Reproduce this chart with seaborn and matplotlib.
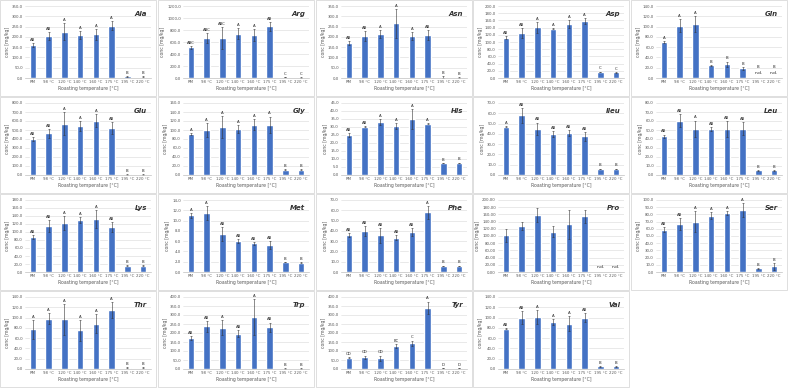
import matplotlib
matplotlib.use("Agg")
import matplotlib.pyplot as plt
from matplotlib.patches import Rectangle
from matplotlib.ticker import FuncFormatter
import seaborn as sns

# roasting temperatures (x categories)
temps = ["RM", "98 °C", "120 °C", "140 °C", "160 °C", "175 °C", "195 °C", "220 °C"]

amino_acids = ["Ala", "Arg", "Asn", "Asp", "Gln",
               "Glu", "Gly", "His", "Ileu", "Leu",
               "Lys", "Met", "Phe", "Pro", "Ser",
               "Thr", "Trp", "Tyr", "Val"]

# mean concentrations [mg/kg], None = not detected
means = {
    "Ala": [160, 205, 225, 210, 212, 255, 8, 6],
    "Arg": [510, 665, 670, 735, 715, 860, 15, 8],
    "Asn": [170, 205, 215, 265, 205, 210, 5, 2],
    "Asp": [112, 125, 141, 137, 150, 158, 17, 16],
    "Gln": [70, 102, 105, 25, 27, 19, None, None],
    "Glu": [400, 465, 570, 545, 605, 525, 8, 6],
    "Gly": [91, 100, 107, 102, 112, 112, 12, 12],
    "His": [25, 30.2, 33, 30.5, 35, 32, 7.5, 7.6],
    "Ileu": [47, 58, 45, 40, 41, 37.5, 6, 6],
    "Leu": [43, 60.5, 51.5, 51, 51, 51.5, 5, 5],
    "Lys": [87, 116, 122, 130, 132, 112, 16, 16],
    "Met": [11.0, 11.5, 7.4, 6.0, 5.6, 5.3, 1.9, 1.8],
    "Phe": [36, 40, 35.5, 33.5, 39, 58, 6, 6],
    "Pro": [102, 128, 158, 112, 133, 155, None, None],
    "Ser": [59, 67, 70, 78, 82, 86, 5, 8],
    "Thr": [77, 98, 97, 75, 88, 115, 2, 2],
    "Trp": [172, 237, 230, 197, 288, 233, 3, 3],
    "Tyr": [62, 65, 60, 128, 143, 340, 5, 5],
    "Val": [78, 100, 101, 92, 88, 100, 5, 5],
}

# standard deviations
errors = {
    "Ala": [8, 20, 40, 20, 25, 22, 3, 2],
    "Arg": [20, 80, 180, 90, 100, 70, 5, 3],
    "Asn": [10, 25, 20, 70, 20, 25, 3, 1],
    "Asp": [5, 15, 15, 1, 10, 8, 1, 1],
    "Gln": [2, 12, 15, 1, 5, 3, 0, 0],
    "Glu": [20, 50, 130, 55, 75, 65, 4, 2],
    "Gly": [3, 15, 25, 8, 12, 18, 1, 1],
    "His": [1, 0.3, 2, 2, 6, 0.3, 0.2, 0.2],
    "Ileu": [0.5, 7, 6, 3, 3, 4, 0.3, 0.3],
    "Leu": [2, 7, 9, 2, 9, 7, 1, 0.5],
    "Lys": [5, 15, 18, 8, 22, 12, 1, 1],
    "Met": [0.5, 1.3, 1.4, 0.4, 0.3, 0.8, 0.05, 0.05],
    "Phe": [2, 5, 7, 2, 4, 6, 0.3, 0.3],
    "Pro": [18, 12, 20, 15, 40, 18, 0, 0],
    "Ser": [4, 8, 15, 5, 3, 10, 1, 5],
    "Thr": [18, 10, 30, 20, 18, 15, 1, 1],
    "Trp": [12, 30, 40, 20, 100, 25, 1, 1],
    "Tyr": [2, 10, 15, 10, 15, 35, 1, 1],
    "Val": [1, 12, 13, 6, 15, 8, 1, 1],
}

# significance letters
letters = {
    "Ala": ["AB", "AB", "A", "A", "A", "A", "B", "B"],
    "Arg": ["ABC", "ABC", "ABC", "A", "A", "AB", "C", "C"],
    "Asn": ["AB", "AB", "A", "A", "A", "AB", "B", "B"],
    "Asp": ["AB", "AB", "A", "A", "A", "A", "C", "C"],
    "Gln": ["A", "A", "A", "B", "B", "B", "B", "B"],
    "Glu": ["AB", "AB", "A", "A", "A", "AB", "B", "B"],
    "Gly": ["A", "A", "A", "A", "A", "A", "B", "B"],
    "His": ["AB", "AB", "A", "A", "A", "A", "B", "B"],
    "Ileu": ["A", "AB", "AB", "AB", "AB", "AB", "B", "B"],
    "Leu": ["AB", "AB", "A", "AB", "AB", "AB", "B", "B"],
    "Lys": ["AB", "AB", "A", "A", "A", "AB", "B", "B"],
    "Met": ["A", "A", "AB", "AB", "AB", "AB", "B", "B"],
    "Phe": ["AB", "AB", "AB", "AB", "AB", "A", "B", "B"],
    "Pro": ["", "", "", "", "", "", "", ""],
    "Ser": ["AB", "AB", "A", "A", "A", "A", "B", "B"],
    "Thr": ["A", "A", "A", "A", "A", "A", "B", "B"],
    "Trp": ["AB", "AB", "A", "AB", "A", "AB", "B", "B"],
    "Tyr": ["CD", "CD", "CD", "BC", "C", "A", "D", "D"],
    "Val": ["AB", "AB", "A", "A", "A", "AB", "B", "B"],
}

# y axis (max, step) per panel
y_axis = {
    "Ala": (350, 50), "Arg": (1200, 200), "Asn": (350, 50), "Asp": (200, 20),
    "Gln": (140, 20), "Glu": (800, 100), "Gly": (160, 20), "His": (45, 5),
    "Ileu": (70, 10), "Leu": (80, 10), "Lys": (180, 20), "Met": (14, 2),
    "Phe": (70, 10), "Pro": (200, 20), "Ser": (100, 10), "Thr": (140, 20),
    "Trp": (400, 50), "Tyr": (400, 50), "Val": (140, 20),
}

sns.set_style("white")
plt.rcParams["font.family"] = ["DejaVu Sans"]

W, H = 788, 390
fig = plt.figure(figsize=(W / 100, H / 100), dpi=100)

col_x = [0, 158, 316, 473, 631]
row_y = [0, 97, 194, 291]
pw, ph = 156, 96
bar_color = "#4472c4"

for i, name in enumerate(amino_acids):
    r, c = divmod(i, 5)
    px, py = col_x[c], row_y[r]
    # panel frame
    fig.patches.append(Rectangle((px / W, 1 - (py + ph) / H), pw / W, ph / H,
                                 transform=fig.transFigure, fill=False,
                                 edgecolor="#d9d9d9", linewidth=0.6))
    left, right, top, bottom = 25, 151, 6, 78
    ax = fig.add_axes([(px + left) / W, 1 - (py + bottom) / H,
                       (right - left) / W, (bottom - top) / H])

    vals = [v if v is not None else 0 for v in means[name]]
    sns.barplot(x=temps, y=vals, order=temps, ax=ax, color=bar_color,
                saturation=1, width=0.42, errorbar=None)
    ymax, ystep = y_axis[name]
    for j, v in enumerate(means[name]):
        if v is None:
            continue
        ax.errorbar(j, v, yerr=errors[name][j], fmt="none", ecolor="#333333",
                    elinewidth=0.4, capsize=1.0, capthick=0.4)

    for j, lab in enumerate(letters[name]):
        v = means[name][j]
        if v is None:
            ax.text(j, ymax * 0.035, "n.d.", ha="center", va="bottom", fontsize=3.2)
            if lab:
                ax.text(j, ymax * 0.13, lab, ha="center", va="bottom", fontsize=2.8)
        elif lab:
            ax.text(j, v + errors[name][j] + ymax * 0.015, lab, ha="center",
                    va="bottom", fontsize=2.8)

    ax.set_ylim(0, ymax)
    ax.set_yticks([k * ystep for k in range(int(round(ymax / ystep)) + 1)])
    dec = 2 if name == "Pro" else 1
    ax.yaxis.set_major_formatter(FuncFormatter(
        lambda v, p, d=dec: f"{v:.{d}f}".replace(".", ",")))
    ax.set_xlim(-0.5, 7.5)
    ax.grid(axis="y", color="#d9d9d9", linewidth=0.4)
    ax.set_axisbelow(True)
    for s in ["top", "right", "left"]:
        ax.spines[s].set_visible(False)
    ax.spines["bottom"].set_color("#bfbfbf")
    ax.spines["bottom"].set_linewidth(0.5)
    ax.tick_params(axis="both", labelsize=2.8, length=0, pad=1.5,
                   labelcolor="#595959")
    ax.set_xlabel("Roasting temperature [°C]", fontsize=3.3, color="#595959",
                  labelpad=1.5)
    ax.set_ylabel("conc [mg/kg]", fontsize=3.3, color="#595959", labelpad=1.5)
    ax.text(0.97, 0.93, name, transform=ax.transAxes, ha="right", va="top",
            fontsize=5, fontweight="bold", fontstyle="italic", color="#333333")

fig.savefig("out.png", dpi=100, facecolor="white")
